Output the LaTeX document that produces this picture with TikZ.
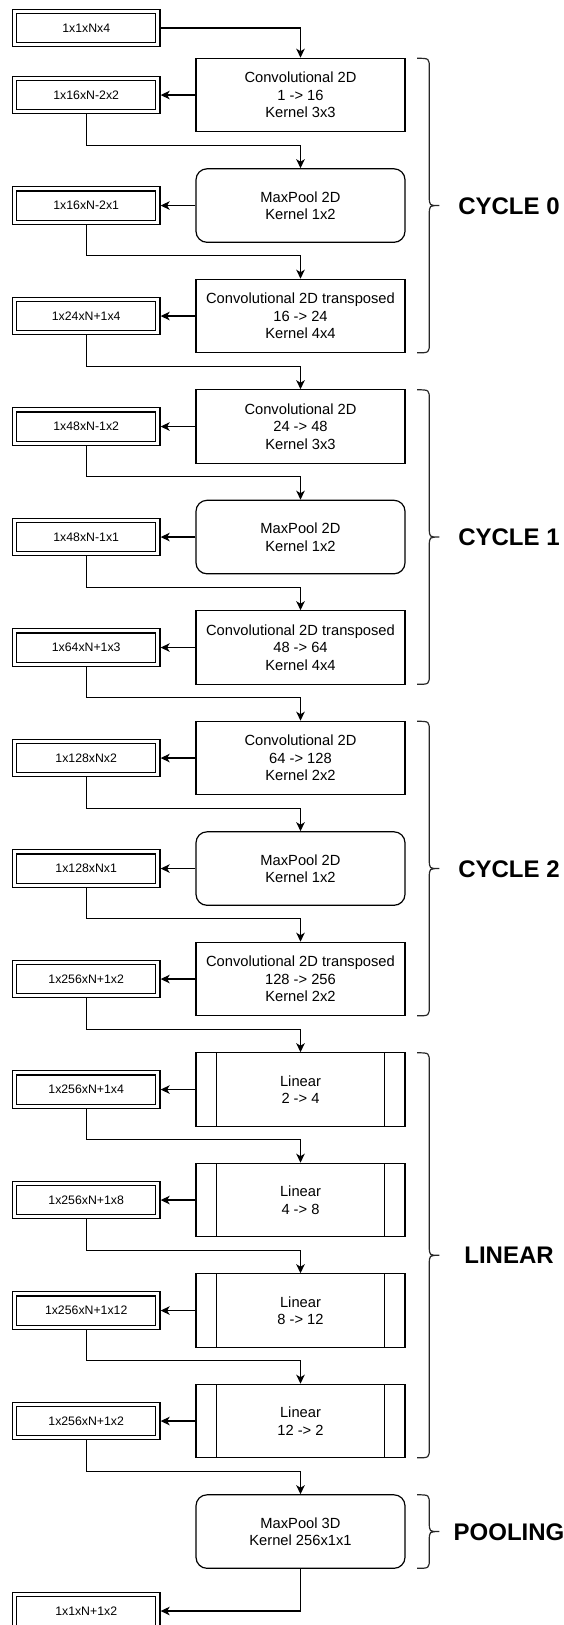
\documentclass[tikz,border=0pt]{standalone}
\usepackage{fontspec}
\setmainfont{Liberation Sans}
\usetikzlibrary{arrows.meta,calc}
\tikzset{
  layer/.style={draw, line width=1.2pt, minimum width=209pt, minimum height=73.5pt,
    align=center, inner sep=0pt, font=\fontsize{14.7}{17.6}\selectfont},
  poolbox/.style={layer, rounded corners=11pt},
  linbox/.style={layer, path picture={
      \draw[line width=1.2pt] ([xshift=20.7pt]path picture bounding box.north west) -- ([xshift=20.7pt]path picture bounding box.south west);
      \draw[line width=1.2pt] ([xshift=-20.7pt]path picture bounding box.north east) -- ([xshift=-20.7pt]path picture bounding box.south east);}},
  outbox/.style={draw, double, double distance=3pt, line width=1.2pt, minimum width=143.5pt,
    minimum height=33.3pt, inner sep=0pt, outer sep=2.7pt, font=\fontsize{12.3}{14}\selectfont},
  conn/.style={line width=1.2pt, -{Stealth[length=9pt,width=8.5pt,inset=2.5pt]}},
  bracepath/.style={line width=1.2pt, draw=black!85},
  grouplabel/.style={font=\fontsize{24}{28}\selectfont\bfseries, inner sep=0pt, text height=17.2pt, text depth=0pt}
}
\begin{document}
\begin{tikzpicture}[x=1pt,y=-1pt]
\useasboundingbox (0,0) rectangle (564,1625);
\clip (0,0) rectangle (564,1625);

% input
\node[outbox] (in0) at (86.2,28) {1x1xNx4};

% layers
\node[layer]    (L0)  at (300.5,95.05)   {Convolutional 2D\\1 -> 16\\Kernel 3x3};
\node[poolbox]  (L1)  at (300.5,205.55)  {MaxPool 2D\\Kernel 1x2};
\node[layer]    (L2)  at (300.5,316.05)  {Convolutional 2D transposed\\16 -> 24\\Kernel 4x4};
\node[layer]    (L3)  at (300.5,426.55)  {Convolutional 2D\\24 -> 48\\Kernel 3x3};
\node[poolbox]  (L4)  at (300.5,537.05)  {MaxPool 2D\\Kernel 1x2};
\node[layer]    (L5)  at (300.5,647.55)  {Convolutional 2D transposed\\48 -> 64\\Kernel 4x4};
\node[layer]    (L6)  at (300.5,758.05)  {Convolutional 2D\\64 -> 128\\Kernel 2x2};
\node[poolbox]  (L7)  at (300.5,868.55)  {MaxPool 2D\\Kernel 1x2};
\node[layer]    (L8)  at (300.5,979.05)  {Convolutional 2D transposed\\128 -> 256\\Kernel 2x2};
\node[linbox]   (L9)  at (300.5,1089.55) {Linear\\2 -> 4};
\node[linbox]   (L10) at (300.5,1200.05) {Linear\\4 -> 8};
\node[linbox]   (L11) at (300.5,1310.55) {Linear\\8 -> 12};
\node[linbox]   (L12) at (300.5,1421.05) {Linear\\12 -> 2};
\node[poolbox]  (L13) at (300.5,1531.55) {MaxPool 3D\\Kernel 256x1x1};

% outputs
\node[outbox] (o0)  at (86.2,95.05)   {1x16xN-2x2};
\node[outbox] (o1)  at (86.2,205.55)  {1x16xN-2x1};
\node[outbox] (o2)  at (86.2,316.05)  {1x24xN+1x4};
\node[outbox] (o3)  at (86.2,426.55)  {1x48xN-1x2};
\node[outbox] (o4)  at (86.2,537.05)  {1x48xN-1x1};
\node[outbox] (o5)  at (86.2,647.55)  {1x64xN+1x3};
\node[outbox] (o6)  at (86.2,758.05)  {1x128xNx2};
\node[outbox] (o7)  at (86.2,868.55)  {1x128xNx1};
\node[outbox] (o8)  at (86.2,979.05)  {1x256xN+1x2};
\node[outbox] (o9)  at (86.2,1089.55) {1x256xN+1x4};
\node[outbox] (o10) at (86.2,1200.05) {1x256xN+1x8};
\node[outbox] (o11) at (86.2,1310.55) {1x256xN+1x12};
\node[outbox] (o12) at (86.2,1421.05) {1x256xN+1x2};
\node[outbox] (o13) at (86.2,1611)    {1x1xN+1x2};

% connectors
\draw[conn] (in0.east) -| (L0.north);
\foreach \i in {0,...,12} {
  \draw[conn] (L\i.west) -- (o\i.east);
}
\foreach \i [evaluate=\i as \j using int(\i+1)] in {0,...,12} {
  \draw[conn] (o\i.south) -- ++(0,30.75) -| (L\j.north);
}
\draw[conn] (L13.south) |- (o13.east);

% braces and group labels
\foreach \t/\b/\lab [count=\k] in {58.3/352.8/CYCLE 0, 389.8/684.3/CYCLE 1, 721.3/1015.8/CYCLE 2, 1052.8/1457.8/LINEAR, 1494.8/1568.3/POOLING} {
  \pgfmathsetmacro\m{(\t+\b)/2}
  \draw[bracepath] (417,\t) .. controls (429.3,\t) .. (429.3,\t+10)
    -- (429.3,\m-9) .. controls (429.3,\m) .. (439.3,\m)
    .. controls (429.3,\m) .. (429.3,\m+9)
    -- (429.3,\b-10) .. controls (429.3,\b) .. (417,\b);
  \node[grouplabel] (g\k) at (509,\m) {\lab};
}
\end{tikzpicture}
\end{document}
